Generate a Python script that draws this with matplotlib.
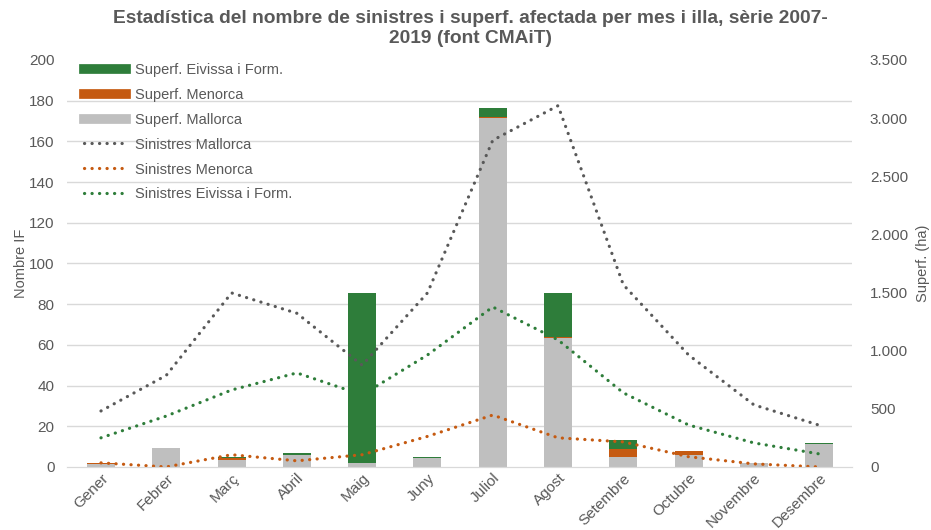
import numpy as np
import matplotlib.pyplot as plt
from matplotlib.lines import Line2D

plt.rcParams["font.family"] = ["Liberation Sans", "DejaVu Sans"]

mesos = ["Gener", "Febrer", "Març", "Abril", "Maig", "Juny", "Juliol",
         "Agost", "Setembre", "Octubre", "Novembre", "Desembre"]

# superficie afectada (ha), eix dret
sup_mallorca = [25, 160, 60, 100, 35, 80, 3000, 1110, 86, 100, 34, 200]
sup_menorca = [8, 0, 20, 0, 0, 0, 5, 5, 69, 35, 0, 0]
sup_eivissa = [3, 5, 6, 17, 1460, 6, 80, 380, 77, 3, 0, 5]

# nombre de sinistres, eix esquerre
sin_mallorca = [27.5, 45, 85.5, 75.5, 50, 85.5, 160.5, 177.5, 89.5, 55, 30.5, 20.5]
sin_menorca = [2, 0, 6, 3, 6, 15, 25.5, 14.3, 12.3, 5, 1.5, 0]
sin_eivissa = [14.3, 25, 37.8, 46.2, 35.4, 55, 78.6, 62.4, 36.4, 20.6, 11.8, 6.4]

c_green = "#2E7D3A"
c_orange = "#C55A11"
c_gray = "#BFBFBF"
c_dark = "#595959"
c_text = "#595959"
c_grid = "#D9D9D9"

x = np.arange(len(mesos))
fig = plt.figure(figsize=(9.31, 5.30), dpi=100)
ax = fig.add_axes([0.072, 0.119, 0.843, 0.768])
ax2 = ax.twinx()
ax.set_zorder(ax2.get_zorder() + 1)
ax.patch.set_visible(False)

w = 0.43
b1 = np.array(sup_mallorca, dtype=float)
b2 = b1 + np.array(sup_menorca)
ax2.bar(x, sup_mallorca, w, color=c_gray)
ax2.bar(x, sup_menorca, w, bottom=b1, color=c_orange)
ax2.bar(x, sup_eivissa, w, bottom=b2, color=c_green)

dot = dict(linestyle=(0, (0.05, 2.3)), linewidth=2.3, dash_capstyle="round")
ax.plot(x, sin_mallorca, color=c_dark, **dot)
ax.plot(x, sin_menorca, color=c_orange, **dot)
ax.plot(x, sin_eivissa, color=c_green, **dot)

ax.set_ylim(0, 200)
ax2.set_ylim(0, 3500)
ax.set_xlim(-0.52, 11.5)
ax.set_yticks(np.arange(0, 201, 20))
ax2.set_yticks(np.arange(0, 3501, 500))
ax2.set_yticklabels([f"{v:,}".replace(",", ".") for v in range(0, 3501, 500)])
ax2.set_yticks(np.arange(0, 3501, 350), minor=True)
ax2.grid(which="minor", axis="y", color=c_grid, linewidth=1)
ax2.set_axisbelow(True)

ax.set_xticks(x)
ax.set_xticklabels(mesos, rotation=45, ha="right", rotation_mode="anchor")

for a in (ax, ax2):
    for s in ("top", "left", "right"):
        a.spines[s].set_visible(False)
    a.spines["bottom"].set_color(c_grid)
    a.tick_params(colors=c_text, labelsize=11, length=0, which="both")
ax.tick_params(axis="y", pad=9)
ax2.tick_params(axis="y", pad=13)
ax.tick_params(axis="x", pad=3)

ax.set_ylabel("Nombre IF", color=c_text, fontsize=10.5, labelpad=1)
ax2.set_ylabel("Superf. (ha)", color=c_text, fontsize=10.5, labelpad=6)

fig.suptitle("Estadística del nombre de sinistres i superf. afectada per mes i illa, sèrie 2007-\n2019 (font CMAiT)",
             x=0.505, y=0.982, fontsize=13.8, fontweight="bold", color=c_text, linespacing=1.3)

handles = [
    Line2D([0], [0], color=c_green, linewidth=7),
    Line2D([0], [0], color=c_orange, linewidth=7),
    Line2D([0], [0], color=c_gray, linewidth=7),
    Line2D([0], [0], color=c_dark, **dot),
    Line2D([0], [0], color=c_orange, **dot),
    Line2D([0], [0], color=c_green, **dot),
]
labels = ["Superf. Eivissa i Form.", "Superf. Menorca", "Superf. Mallorca",
          "Sinistres Mallorca", "Sinistres Menorca", "Sinistres Eivissa i Form."]
leg = ax.legend(handles, labels, loc="upper left", bbox_to_anchor=(0.008, 1.018),
                frameon=False, fontsize=10.5, handlelength=2.9, labelspacing=0.75,
                handletextpad=0.6, borderaxespad=0.3)
for t in leg.get_texts():
    t.set_color(c_text)

fig.savefig("out.png", dpi=100)
